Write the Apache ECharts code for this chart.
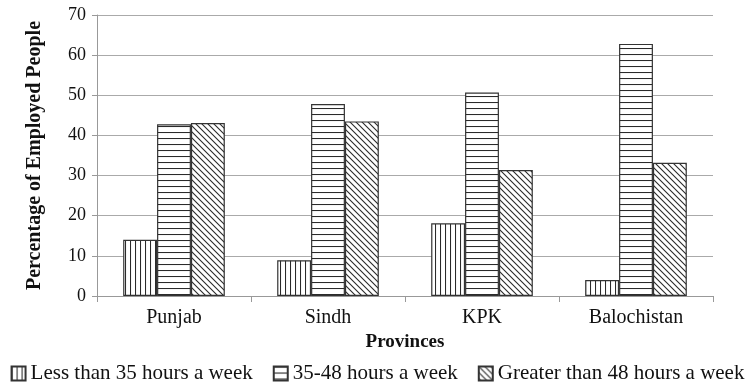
<!DOCTYPE html>
<html><head><meta charset="utf-8">
<script src="https://cdn.jsdelivr.net/npm/echarts@6/dist/echarts.min.js"></script>
<style>html,body{margin:0;padding:0;background:#fff;overflow:hidden}#c{width:755px;height:391px}</style>
</head><body><div id="c"></div>
<script>
var categories = ['Punjab', 'Sindh', 'KPK', 'Balochistan'];
var seriesNames = ['Less than 35 hours a week', '35-48 hours a week', 'Greater than 48 hours a week'];
var lessThan35 = [14.0, 8.9, 18.1, 4.0];
var between35and48 = [42.8, 47.8, 50.7, 62.8];
var greaterThan48 = [43.1, 43.5, 31.4, 33.2];
var yTicks = [0, 10, 20, 30, 40, 50, 60, 70];

function makePattern(kind) {
  var c = document.createElement('canvas');
  var s = kind === 'v' ? 5 : 6;
  c.width = s; c.height = s;
  var ctx = c.getContext('2d');
  ctx.fillStyle = '#fff'; ctx.fillRect(0, 0, s, s);
  ctx.strokeStyle = '#2a2a2a'; ctx.lineWidth = 1.1;
  ctx.beginPath();
  if (kind === 'v') { ctx.moveTo(0.5, 0); ctx.lineTo(0.5, s); }
  else if (kind === 'h') { ctx.moveTo(0, 0.5); ctx.lineTo(s, 0.5); }
  else {
    ctx.moveTo(-1, -1); ctx.lineTo(s + 1, s + 1);
    ctx.moveTo(-1, s - 1); ctx.lineTo(1, s + 1);
    ctx.moveTo(s - 1, -1); ctx.lineTo(s + 1, 1);
  }
  ctx.stroke();
  return { image: c, repeat: 'repeat' };
}
var patterns = [makePattern('v'), makePattern('h'), makePattern('d')];
var dataSets = [lessThan35, between35and48, greaterThan48];
var font = 'Liberation Serif';

var chart = echarts.init(document.getElementById('c'), null, { renderer: 'canvas' });
chart.setOption({
  animation: false,
  textStyle: { fontFamily: font },
  grid: { left: 97, right: 42, top: 15, bottom: 95 },
  legend: {
    bottom: 2, left: 'center', itemWidth: 14, itemHeight: 14, itemGap: 20,
    textStyle: { fontFamily: font, fontSize: 21, color: '#111' },
    data: seriesNames.map(function (n) { return { name: n, icon: 'rect' }; })
  },
  xAxis: {
    type: 'category', data: categories,
    name: 'Provinces', nameLocation: 'middle', nameGap: 36,
    nameTextStyle: { fontFamily: font, fontSize: 19, fontWeight: 'bold', color: '#111' },
    axisLine: { lineStyle: { color: '#999' } },
    axisTick: { show: true, length: 6, lineStyle: { color: '#999' } },
    axisLabel: { fontFamily: font, fontSize: 20, color: '#111', margin: 12 }
  },
  yAxis: {
    type: 'value', min: 0, max: 70, interval: 10,
    name: 'Percentage of Employed People', nameLocation: 'middle', nameGap: 52,
    nameTextStyle: { fontFamily: font, fontSize: 20, fontWeight: 'bold', color: '#111' },
    axisLine: { show: true, lineStyle: { color: '#999' } },
    axisTick: { show: true, length: 5, lineStyle: { color: '#999' } },
    axisLabel: { fontFamily: font, fontSize: 18, color: '#111', margin: 11,
      formatter: function (v) { return yTicks.indexOf(v) >= 0 ? String(v) : ''; } },
    splitLine: { lineStyle: { color: '#aaa', width: 1 } }
  },
  series: seriesNames.map(function (n, i) {
    return {
      name: n, type: 'bar', data: dataSets[i],
      barGap: '0%', barCategoryGap: '34%',
      itemStyle: { color: patterns[i], borderColor: '#333', borderWidth: 1.2 }
    };
  })
});
</script></body></html>
